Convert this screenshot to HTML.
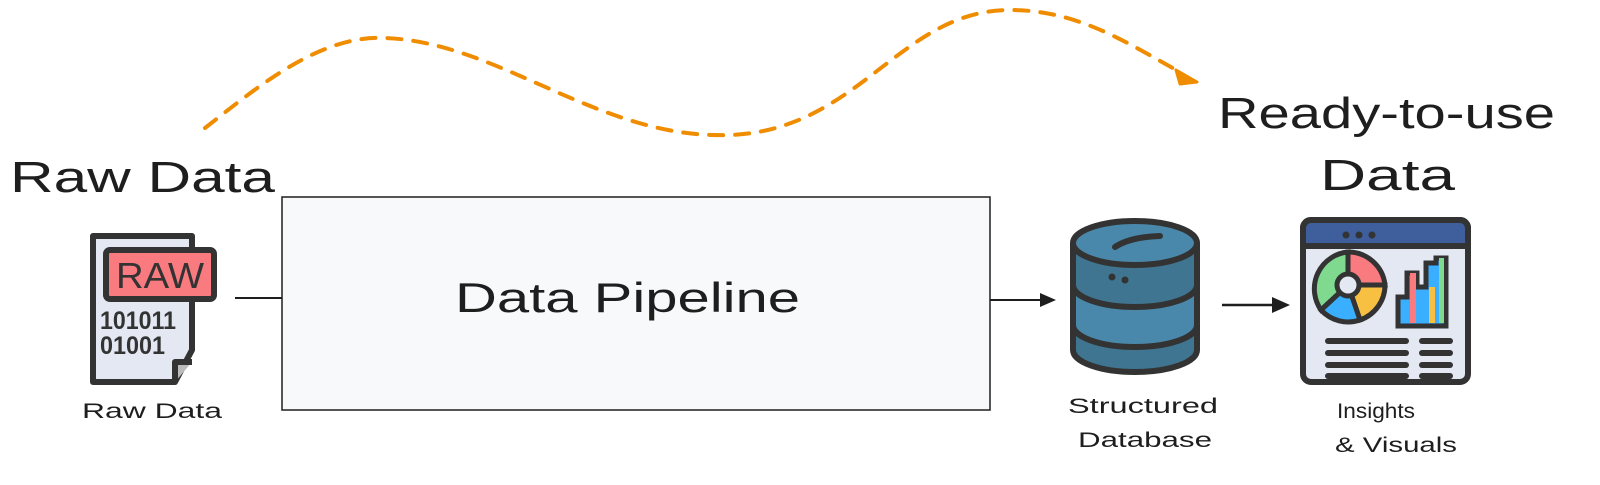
<!DOCTYPE html>
<html><head><meta charset="utf-8"><style>
html,body{margin:0;padding:0;background:#fff;}
svg{display:block;}
text{font-family:"Liberation Sans",sans-serif;fill:#1e1e1e;}
</style></head><body>
<svg width="1600" height="485" viewBox="0 0 1600 485" xmlns="http://www.w3.org/2000/svg">
<path d="M205,128 C260,85 320,35 385,38 C500,42 600,140 730,135 C860,130 900,10 1010,10 C1080,10 1130,45 1180,72" fill="none" stroke="#f08c00" stroke-width="4" stroke-dasharray="14 12" stroke-linecap="round"/>
<polygon points="1176,70 1197,82 1180,84" fill="#f08c00" stroke="#f08c00" stroke-width="3" stroke-linejoin="round"/>

<text x="10" y="192" font-size="44" textLength="265" lengthAdjust="spacingAndGlyphs">Raw Data</text>
<text x="1218" y="128" font-size="44" textLength="337" lengthAdjust="spacingAndGlyphs">Ready-to-use</text>
<text x="1320" y="190" font-size="44" textLength="135" lengthAdjust="spacingAndGlyphs">Data</text>

<rect x="282" y="197" width="708" height="213" fill="#f8f9fa" stroke="#1e1e1e" stroke-width="1.5"/>
<text x="455" y="312" font-size="42" textLength="345" lengthAdjust="spacingAndGlyphs">Data Pipeline</text>

<line x1="235" y1="298" x2="282" y2="298" stroke="#1e1e1e" stroke-width="2"/>
<line x1="990" y1="300" x2="1045" y2="300" stroke="#1e1e1e" stroke-width="2"/>
<polygon points="1040,293 1056,300 1040,307" fill="#1e1e1e"/>
<line x1="1222" y1="305" x2="1278" y2="305" stroke="#1e1e1e" stroke-width="2.5"/>
<polygon points="1272,297 1290,305 1272,313" fill="#1e1e1e"/>

<g stroke="#333" stroke-width="6" stroke-linejoin="round">
<path d="M93,236 H192 V350 L175,382 H93 Z" fill="#e3e8f2"/>
<path d="M175,382 V362 H192" fill="#bbb"/>
<rect x="106" y="250" width="108" height="49" rx="4" fill="#f97a7f"/>
</g>
<text x="116" y="288" font-size="36" textLength="88" lengthAdjust="spacingAndGlyphs" style="fill:#333;">RAW</text>
<text x="100" y="329" font-size="25" textLength="76" lengthAdjust="spacingAndGlyphs" style="fill:#333;font-weight:bold;">101011</text>
<text x="100" y="354" font-size="25" textLength="65" lengthAdjust="spacingAndGlyphs" style="fill:#333;font-weight:bold;">01001</text>
<text x="82" y="418" font-size="21" textLength="140" lengthAdjust="spacingAndGlyphs">Raw Data</text>

<g stroke="#333" stroke-width="6">
<path d="M1073,243 V350 A62,22 0 0 0 1197,350 V243" fill="#3f7590"/>
<path d="M1073,285 A62,22 0 0 0 1197,285 V325 A62,22 0 0 1 1073,325 Z" fill="#4a88ab"/>
<ellipse cx="1135" cy="243" rx="62" ry="22" fill="#4a88ab"/>
<path d="M1115,247 Q1130,237 1160,236" fill="none" stroke-linecap="round"/>
</g>
<circle cx="1112" cy="277" r="3.5" fill="#333"/><circle cx="1125" cy="280" r="3.5" fill="#333"/>
<text x="1068" y="413" font-size="21" textLength="150" lengthAdjust="spacingAndGlyphs">Structured</text>
<text x="1078" y="447" font-size="21" textLength="134" lengthAdjust="spacingAndGlyphs">Database</text>

<g stroke="#333" stroke-width="6" stroke-linejoin="round">
<rect x="1303" y="220" width="165" height="162" rx="8" fill="#e3e8f2"/>
<path d="M1303,246 V228 a8,8 0 0 1 8,-8 H1460 a8,8 0 0 1 8,8 V246 Z" fill="#3e5e9c"/>
</g>
<g fill="#333"><circle cx="1346" cy="235" r="3.5"/><circle cx="1359" cy="235" r="3.5"/><circle cx="1372" cy="235" r="3.5"/></g>
<g stroke="#333" stroke-width="5">
<path d="M1348,285 L1348,252 A37,37 0 0 0 1321,310 Z" fill="#7fd98f"/>
<path d="M1348,285 L1348,252 A37,37 0 0 1 1385,285 Z" fill="#f97a7f"/>
<path d="M1348,285 L1385,285 A37,37 0 0 1 1360,320 Z" fill="#f8c042"/>
<path d="M1348,285 L1360,320 A37,37 0 0 1 1321,310 Z" fill="#3aaeff"/>
<circle cx="1348" cy="285" r="11" fill="#e3e8f2"/>
<path d="M1398,326 V297 H1407 V273 H1417 V287 H1426 V263 H1436 V258 H1446 V326 Z" fill="#3aaeff"/>
<rect x="1410" y="273" width="6" height="50" fill="#f97a7f" stroke-width="0"/>
<rect x="1429" y="287" width="6" height="36" fill="#f8c042" stroke-width="0"/>
<rect x="1439" y="258" width="5" height="65" fill="#7fd98f" stroke-width="0"/>
</g>
<g stroke="#333" stroke-width="6" stroke-linecap="round">
<line x1="1328" y1="341" x2="1406" y2="341"/><line x1="1328" y1="353" x2="1406" y2="353"/>
<line x1="1328" y1="365" x2="1406" y2="365"/><line x1="1328" y1="376" x2="1406" y2="376"/>
<line x1="1422" y1="341" x2="1450" y2="341"/><line x1="1422" y1="353" x2="1450" y2="353"/>
<line x1="1422" y1="365" x2="1450" y2="365"/><line x1="1422" y1="376" x2="1450" y2="376"/>
</g>
<text x="1337" y="418" font-size="21" textLength="78" lengthAdjust="spacingAndGlyphs">Insights</text>
<text x="1335" y="452" font-size="21" textLength="122" lengthAdjust="spacingAndGlyphs">&amp; Visuals</text>
</svg>
</body></html>
